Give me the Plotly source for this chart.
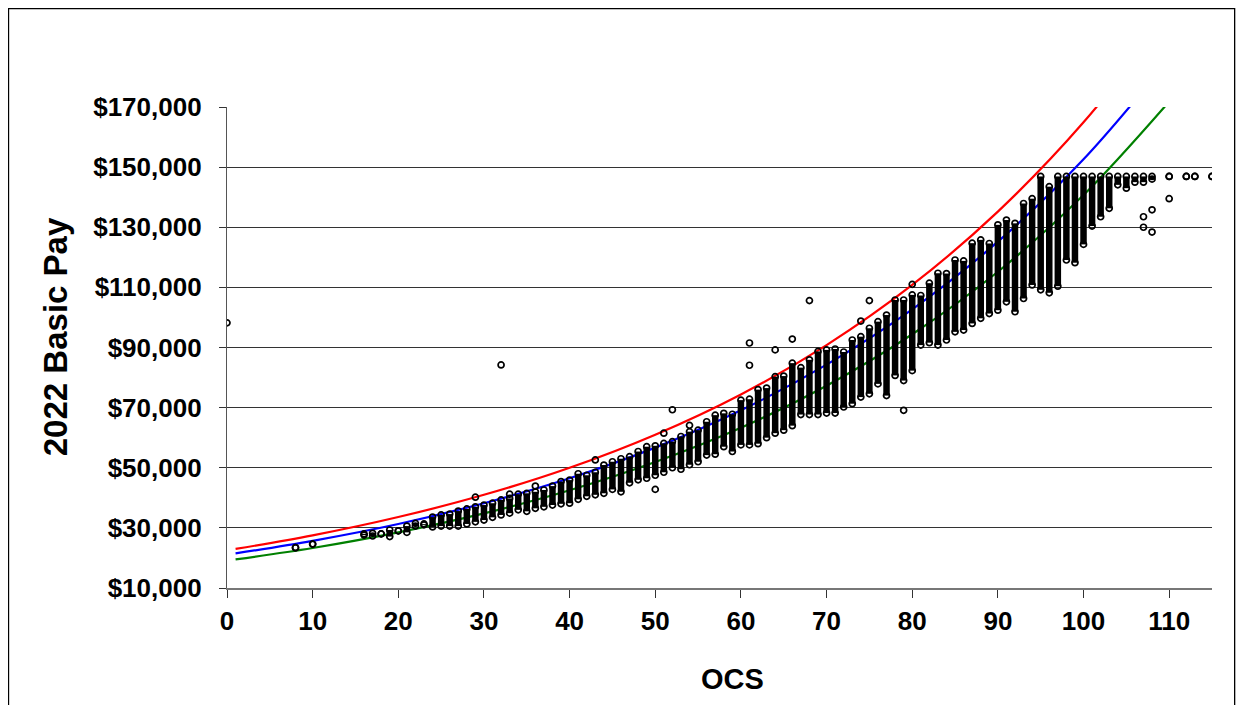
import plotly.graph_objects as go

# ---- data ----
# dense columns of employees per OCS score: lowest and highest pay in each column
col_ocs = [8, 10, 16, 17, 18, 19, 20, 21, 22, 23, 24, 25, 26, 27, 28, 29, 30, 31, 32, 33,
           34, 35, 36, 37, 38, 39, 40, 41, 42, 43, 44, 45, 46, 47, 48, 49, 50, 51, 52, 53,
           54, 55, 56, 57, 58, 59, 60, 61, 62, 63, 64, 65, 66, 67, 68, 69, 70, 71, 72, 73,
           74, 75, 76, 77, 78, 79, 80, 81, 82, 83, 84, 85, 86, 87, 88, 89, 90, 91, 92, 93,
           94, 95, 96, 97, 98, 99, 100, 101, 102, 103, 104, 105, 106, 107, 108, 110, 112, 113, 115]
col_low = [23400, 24600, 27600, 27300, 28000, 27100, 29000, 28500, 30600, 31000, 30300, 30600,
           30600, 30600, 31300, 32000, 32600, 33500, 34300, 34900, 36000, 35500, 36500, 37000,
           37600, 38000, 38200, 39500, 40500, 41000, 41500, 42800, 42000, 45000, 46000, 46500,
           47500, 48500, 50000, 49500, 51000, 52000, 54200, 54500, 57000, 55400, 57600, 57600,
           58000, 60000, 61500, 62500, 64000, 67700, 67700, 67700, 68200, 68200, 70200, 71300,
           73500, 74600, 77900, 74000, 80700, 79000, 82300, 90800, 91600, 90800, 92500, 95200,
           95800, 98000, 99700, 101300, 102400, 105200, 101900, 106300, 110800, 109200, 108200,
           110400, 119100, 118200, 124300, 130400, 133500, 136300, 144100, 143000, 145000,
           145000, 146000, 146900, 146900, 146900, 146900]
col_high = [23400, 24600, 28000, 28200, 28000, 29300, 29000, 30600, 31500, 31300, 33600, 34300,
            34600, 35600, 36300, 37000, 37600, 38200, 39300, 39800, 41200, 41500, 42000, 42600,
            43900, 45400, 45900, 48000, 47500, 48500, 50900, 52000, 53000, 53700, 55400, 57000,
            57300, 58100, 58700, 60400, 62000, 62500, 65300, 67500, 68100, 67800, 72500, 72800,
            76000, 76500, 80300, 80500, 84800, 83300, 85900, 88700, 89200, 89500, 88500, 92500,
            93600, 96400, 98600, 100800, 105800, 105800, 107500, 107300, 111400, 114700, 114600,
            119100, 118800, 124700, 125800, 124600, 130800, 132400, 131300, 137900, 139500,
            146900, 143500, 146900, 146900, 146900, 146900, 146900, 146900, 146900, 146900,
            146900, 146900, 146900, 146900, 146900, 146900, 146900, 146900]

# isolated employees
out_ocs = [0, 29, 32, 33, 36, 43, 50, 51, 52, 54, 61, 61, 64, 66, 68, 74, 75, 79, 80,
           107, 107, 108, 108, 110]
out_pay = [98200, 40200, 84200, 41200, 43900, 52600, 42800, 61500, 69300, 64100, 84100, 91500,
           89200, 92800, 105600, 98800, 105600, 69100, 111000, 133500, 130000, 135800, 128400,
           139500]

# fitted pay curves
curve_ocs = [1, 10, 20, 30, 40, 50, 60, 70, 80, 90, 100, 110]
red_pay = [23000, 27500, 33600, 41000, 50000, 61000, 74400, 90800, 110800, 135200, 164900, 201000]
blue_pay = [21500, 25700, 31300, 38200, 46500, 56700, 69100, 84300, 102700, 125200, 152600, 186000]
green_pay = [19500, 23300, 28500, 34800, 42500, 51900, 63300, 77300, 94400, 115200, 140700, 171800]

y_ticks = [10000, 30000, 50000, 70000, 90000, 110000, 130000, 150000, 170000]
y_tick_labels = ["$10,000", "$30,000", "$50,000", "$70,000", "$90,000", "$110,000",
                 "$130,000", "$150,000", "$170,000"]
x_ticks = [0, 10, 20, 30, 40, 50, 60, 70, 80, 90, 100, 110]

# ---- figure ----
fig = go.Figure()

for pay, color in ((red_pay, "#FF0000"), (blue_pay, "#0000FF"), (green_pay, "#008000")):
    fig.add_trace(go.Scatter(x=curve_ocs, y=pay, mode="lines",
                             line=dict(color=color, width=2.2, shape="spline"),
                             hoverinfo="skip"))

cx, cy = [], []
for n, lo, hi in zip(col_ocs, col_low, col_high):
    cx += [n, n, None]
    cy += [lo, hi, None]
fig.add_trace(go.Scatter(x=cx, y=cy, mode="lines",
                         line=dict(color="black", width=6.5)))

mx = col_ocs + col_ocs + out_ocs
my = col_low + col_high + out_pay
fig.add_trace(go.Scatter(x=mx, y=my, mode="markers",
                         marker=dict(symbol="circle-open", size=6, color="black",
                                     line=dict(width=1.7, color="black"))))

FONT = "Liberation Sans, Arial, sans-serif"
bold = dict(family=FONT, size=26, color="black", weight="bold")

fig.update_layout(
    showlegend=False,
    plot_bgcolor="white",
    paper_bgcolor="white",
    margin=dict(l=219, r=24, t=99, b=117, pad=0),
    font=dict(family=FONT, color="black"),
    xaxis=dict(range=[0, 115], tickvals=x_ticks, ticks="outside", ticklen=8, tickwidth=1.3,
               tickcolor="#333", showline=True, linecolor="#777", linewidth=1.5,
               showgrid=False, zeroline=False, tickfont=bold, ticklabelstandoff=1),
    yaxis=dict(range=[10000, 170000], tickvals=y_ticks, ticktext=y_tick_labels,
               ticks="outside", ticklen=7, tickwidth=1.3, tickcolor="#333",
               showline=True, linecolor="#555", linewidth=1.3,
               showgrid=True, gridcolor="#333", gridwidth=1.2, zeroline=False,
               tickfont=bold, ticklabelstandoff=12),
    annotations=[
        dict(text="OCS", x=0.5127, y=-0.1893, xref="paper", yref="paper", showarrow=False,
             xanchor="center", yanchor="middle",
             font=dict(family=FONT, size=29, color="black", weight="bold")),
        dict(text="2022 Basic Pay", x=-0.1742, y=0.5222, xref="paper", yref="paper", showarrow=False,
             textangle=-90, xanchor="center", yanchor="middle",
             font=dict(family=FONT, size=33, color="black", weight="bold")),
    ],
    shapes=[dict(type="rect", xref="paper", yref="paper", x0=-0.2218, x1=1.0230, y0=-0.30, y1=1.2048,
                 line=dict(color="black", width=1.3), fillcolor="rgba(0,0,0,0)", layer="above")],
)

fig.write_html("out.html")
